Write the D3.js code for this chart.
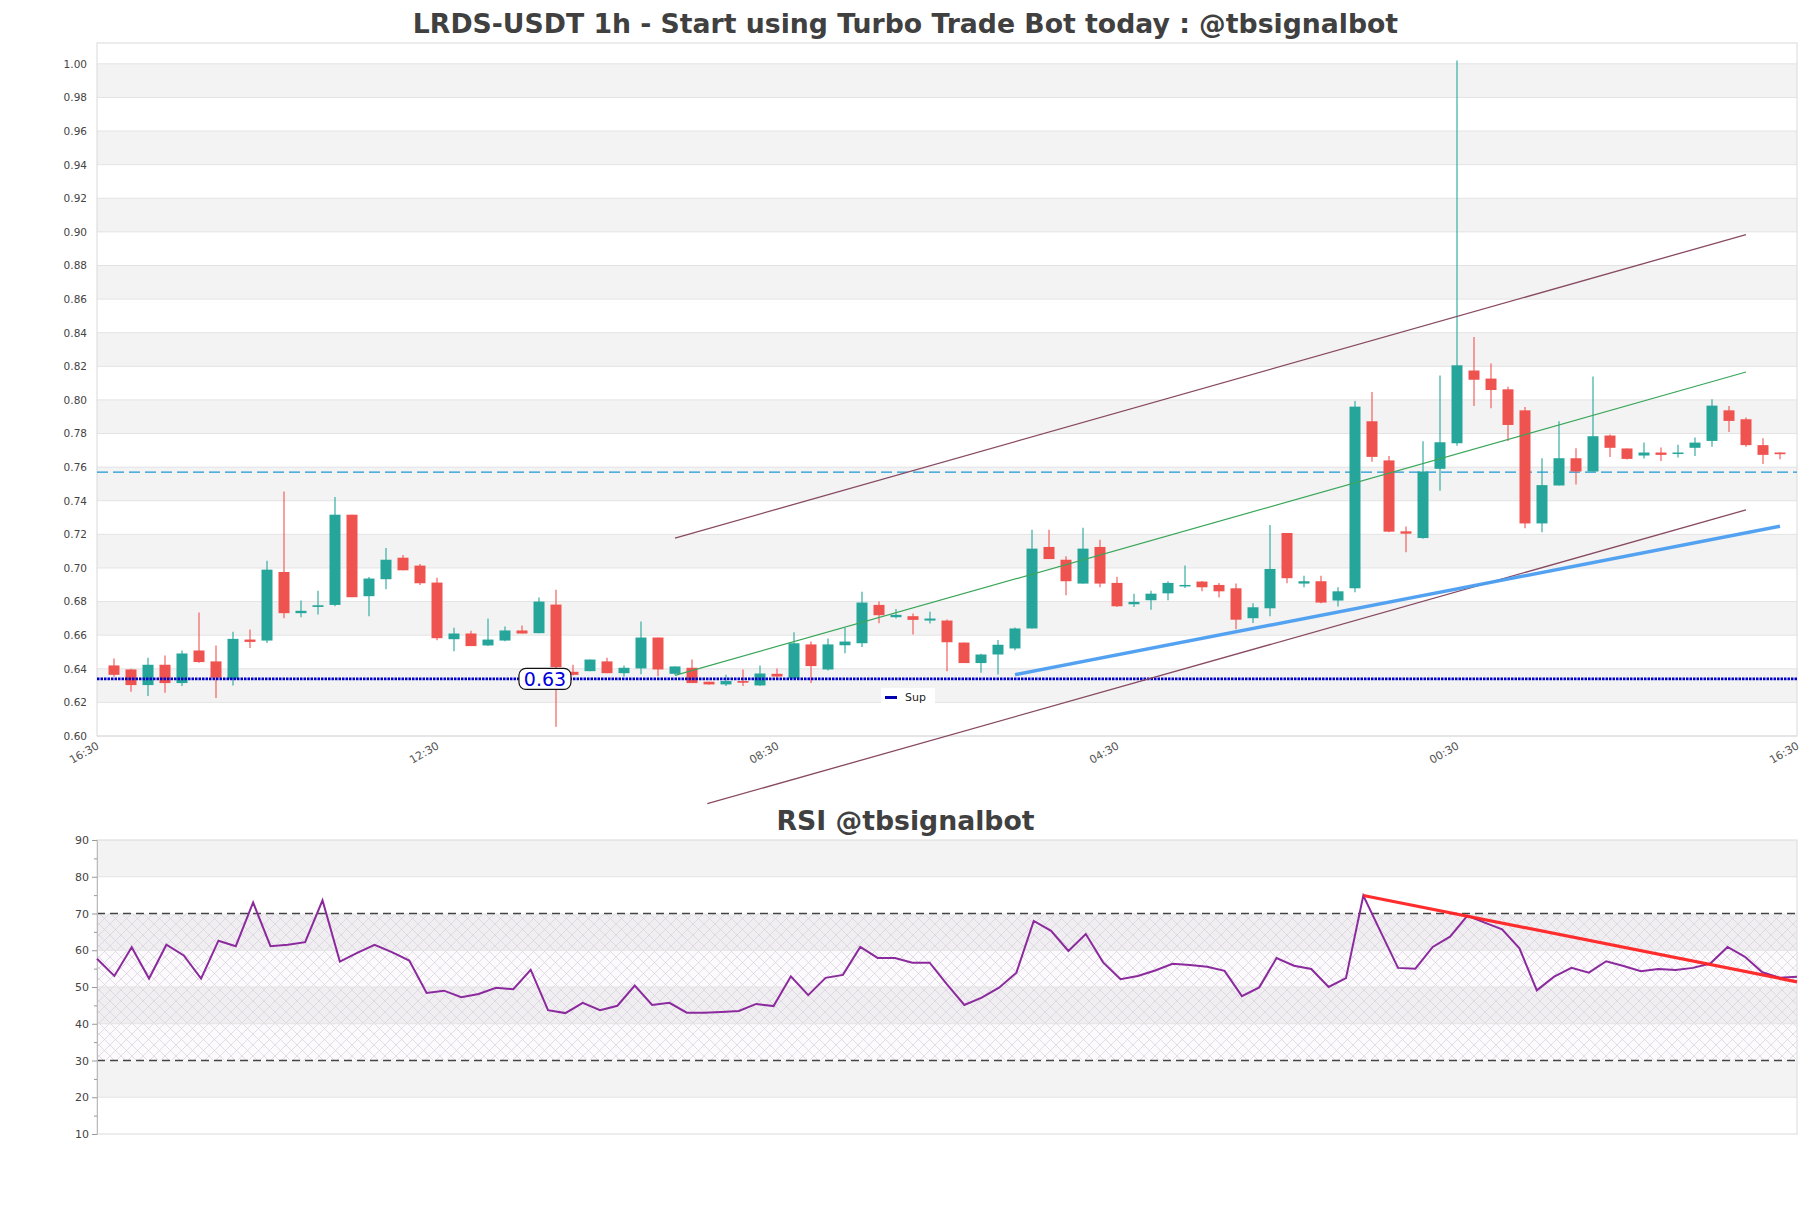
<!DOCTYPE html>
<html lang="en">
<head>
<meta charset="UTF-8">
<title>LRDS-USDT 1h</title>
<script src="https://cdn.jsdelivr.net/npm/d3@7"></script>
<style>
    body { margin: 0; background: #fff; }
    svg text { font-family: "DejaVu Sans", sans-serif; }
</style>
</head>
<body>
<svg id="canvas" width="1811" height="1208"></svg>
<script>
// ---- data (one candle per hour, 99 candles) ----
const opens  = [0.6420,0.6396,0.6303,0.6424,0.6315,0.6509,0.6444,0.6337,0.6574,0.6568,
                0.6976,0.6731,0.6768,0.6780,0.7317,0.6832,0.6933,0.7061,0.7014,0.6913,
                0.6576,0.6610,0.6539,0.6568,0.6628,0.6612,0.6782,0.6382,0.6386,0.6444,
                0.6374,0.6402,0.6586,0.6370,0.6406,0.6323,0.6307,0.6327,0.6301,0.6370,
                0.6343,0.6545,0.6396,0.6540,0.6552,0.6780,0.6707,0.6713,0.6687,0.6687,
                0.6556,0.6434,0.6485,0.6521,0.6640,0.7125,0.7049,0.6907,0.7125,0.6911,
                0.6784,0.6808,0.6849,0.6891,0.6919,0.6899,0.6879,0.6701,0.6760,0.7208,
                0.6907,0.6921,0.6806,0.6879,0.7873,0.7640,0.7218,0.7178,0.7590,0.7742,
                0.8175,0.8127,0.8063,0.7938,0.7265,0.7491,0.7653,0.7574,0.7788,0.7711,
                0.7669,0.7687,0.7679,0.7715,0.7756,0.7938,0.7885,0.7731,0.7687];
const highs  = [0.6461,0.6400,0.6465,0.6479,0.6509,0.6735,0.6539,0.6620,0.6634,0.7043,
                0.7455,0.6806,0.6865,0.7422,0.7317,0.6946,0.7119,0.7077,0.7024,0.6942,
                0.6644,0.6626,0.6699,0.6651,0.6657,0.6824,0.6871,0.6424,0.6455,0.6465,
                0.6420,0.6681,0.6586,0.6414,0.6455,0.6323,0.6364,0.6396,0.6420,0.6402,
                0.6618,0.6562,0.6580,0.6642,0.6859,0.6800,0.6756,0.6729,0.6740,0.6693,
                0.6556,0.6489,0.6572,0.6645,0.7228,0.7228,0.7069,0.7240,0.7168,0.6948,
                0.6847,0.6865,0.6921,0.7014,0.6923,0.6911,0.6908,0.6790,0.7255,0.7208,
                0.6954,0.6954,0.6885,0.7994,0.8047,0.7667,0.7247,0.7754,0.8146,1.0020,
                0.8374,0.8216,0.8079,0.7958,0.7653,0.7873,0.7713,0.8140,0.7794,0.7711,
                0.7746,0.7717,0.7733,0.7776,0.8004,0.7964,0.7895,0.7772,0.7687];
const lows   = [0.6352,0.6263,0.6238,0.6257,0.6297,0.6436,0.6226,0.6301,0.6523,0.6554,
                0.6701,0.6707,0.6723,0.6772,0.6826,0.6713,0.6873,0.6986,0.6899,0.6570,
                0.6505,0.6535,0.6535,0.6564,0.6610,0.6612,0.6055,0.6360,0.6386,0.6374,
                0.6354,0.6368,0.6356,0.6364,0.6315,0.6307,0.6297,0.6297,0.6297,0.6333,
                0.6343,0.6315,0.6390,0.6493,0.6529,0.6671,0.6699,0.6604,0.6669,0.6386,
                0.6434,0.6376,0.6366,0.6511,0.6640,0.7053,0.6838,0.6907,0.6885,0.6768,
                0.6768,0.6752,0.6808,0.6881,0.6861,0.6824,0.6636,0.6673,0.6713,0.6909,
                0.6885,0.6790,0.6770,0.6855,0.7632,0.7212,0.7093,0.7174,0.7459,0.7727,
                0.7964,0.7950,0.7756,0.7236,0.7212,0.7491,0.7497,0.7574,0.7661,0.7645,
                0.7651,0.7637,0.7657,0.7667,0.7721,0.7809,0.7721,0.7618,0.7647];
const closes = [0.6364,0.6303,0.6424,0.6315,0.6491,0.6440,0.6347,0.6578,0.6560,0.6990,
                0.6731,0.6745,0.6778,0.7317,0.6826,0.6937,0.7049,0.6986,0.6909,0.6582,
                0.6610,0.6535,0.6574,0.6628,0.6610,0.6800,0.6410,0.6364,0.6455,0.6374,
                0.6406,0.6586,0.6396,0.6414,0.6315,0.6307,0.6327,0.6317,0.6372,0.6354,
                0.6552,0.6416,0.6545,0.6562,0.6794,0.6719,0.6721,0.6691,0.6699,0.6558,
                0.6434,0.6485,0.6543,0.6640,0.7115,0.7053,0.6921,0.7115,0.6907,0.6772,
                0.6798,0.6847,0.6911,0.6899,0.6885,0.6861,0.6692,0.6766,0.6994,0.6939,
                0.6921,0.6794,0.6861,0.7960,0.7661,0.7216,0.7204,0.7574,0.7748,0.8206,
                0.8120,0.8059,0.7851,0.7265,0.7493,0.7653,0.7574,0.7784,0.7715,0.7649,
                0.7687,0.7673,0.7687,0.7746,0.7966,0.7875,0.7731,0.7673,0.7677];

const rsi = [57.7,53.0,60.8,52.3,61.5,58.6,52.3,62.6,61.1,73.0,
             61.1,61.5,62.2,73.6,56.9,59.3,61.5,59.5,57.2,48.4,
             49.0,47.2,48.1,49.8,49.4,54.7,43.7,42.9,45.7,43.7,
             44.9,50.4,45.1,45.7,43.0,43.0,43.2,43.5,45.4,44.8,
             52.9,47.8,52.5,53.3,60.9,57.9,57.9,56.6,56.6,50.7,
             45.1,47.1,49.8,53.9,68.0,65.3,59.8,64.4,56.7,52.1,
             53.0,54.5,56.3,56.0,55.5,54.4,47.5,49.9,57.9,55.8,
             54.9,50.0,52.4,74.9,65.0,55.2,55.0,60.9,63.7,69.4,
             67.5,65.7,60.5,49.1,52.8,55.2,53.9,57.0,55.7,54.3,
             54.9,54.6,55.2,56.4,60.9,58.2,54.0,52.5,52.8];

// x axis: hours since the first label
const xTickHours  = [0, 20, 40, 60, 80, 100];
const xTickLabels = ["16:30", "12:30", "08:30", "04:30", "00:30", "16:30"];
const yTicks   = d3.range(0.60, 1.001, 0.02);
const rsiTicks = [10, 20, 30, 40, 50, 60, 70, 80, 90];

// drawn levels and trend lines [hour, price]
const supLevel = 0.6340;
const resLevel = 0.7570;
const upperChannel = [[34, 0.7178], [97, 0.8984]];
const midChannel   = [[34, 0.6361], [97, 0.8166]];
const lowerChannel = [[35.9, 0.5597], [97, 0.7345]];
const supportTrend = [[54, 0.6365], [99, 0.7248]];
const rsiTrend     = [[73, 74.9], [98, 51.4]];   // [candle index, rsi]

const green = "#26a69a", red = "#ef5350";

let svg = d3.select("#canvas");

// titles
svg.append("text").attr("x", 905.5).attr("y", 23)
    .attr("text-anchor", "middle").attr("dominant-baseline", "central")
    .style("font-size", "26.7px").style("font-weight", "bold").attr("fill", "#404040")
    .text("LRDS-USDT 1h - Start using Turbo Trade Bot today : @tbsignalbot");
svg.append("text").attr("x", 905.5).attr("y", 820)
    .attr("text-anchor", "middle").attr("dominant-baseline", "central")
    .style("font-size", "26.7px").style("font-weight", "bold").attr("fill", "#404040")
    .text("RSI @tbsignalbot");

// ---------------- price panel ----------------
let x = d3.scaleLinear().domain([0, 100]).range([97, 1797]);
let y = d3.scaleLinear().domain([0.60, 1.0124]).range([736, 43]);

let priceG = svg.append("g");
// alternating bands
priceG.selectAll("rect.band")
    .data(d3.range(0.62, 0.99, 0.04))
    .enter().append("rect")
    .attr("x", 97).attr("width", 1700)
    .attr("y", d => y(d + 0.02)).attr("height", d => y(d) - y(d + 0.02))
    .attr("fill", "#f3f3f3");
priceG.selectAll("line.grid")
    .data(yTicks).enter().append("line")
    .attr("x1", 97).attr("x2", 1797)
    .attr("y1", d => y(d)).attr("y2", d => y(d))
    .attr("stroke", "#e3e3e3").attr("stroke-width", 1);
priceG.append("rect").attr("x", 97).attr("y", 43).attr("width", 1700).attr("height", 693)
    .attr("fill", "none").attr("stroke", "#dadada");

let yAxis = priceG.append("g").attr("transform", "translate(97,0)")
    .call(d3.axisLeft(y).tickValues(yTicks).tickFormat(d3.format(".2f")).tickSize(0).tickPadding(10));
yAxis.select(".domain").remove();
yAxis.selectAll("text").style("font-size", "10.5px").attr("fill", "#444")
    .style("font-family", "DejaVu Sans, sans-serif");

priceG.selectAll("text.xlab")
    .data(xTickHours).enter().append("text")
    .attr("transform", d => `translate(${x(d) + 1},${745}) rotate(-30)`)
    .attr("text-anchor", "end").attr("dominant-baseline", "central")
    .style("font-size", "11px").attr("fill", "#555")
    .text((d, i) => xTickLabels[i]);

// horizontal levels
priceG.append("line").attr("x1", 97).attr("x2", 1797)
    .attr("y1", y(resLevel)).attr("y2", y(resLevel))
    .attr("stroke", "#1e98d6").attr("stroke-width", 1.3).attr("stroke-dasharray", "11,5");

// candles
let candles = priceG.selectAll("g.candle")
    .data(opens.map((o, i) => ({o: o, h: highs[i], l: lows[i], c: closes[i], t: i + 1})))
    .enter().append("g");
candles.append("line")
    .attr("x1", d => x(d.t)).attr("x2", d => x(d.t))
    .attr("y1", d => y(d.h)).attr("y2", d => y(d.l))
    .attr("stroke", d => d.c >= d.o ? green : red).attr("stroke-width", 1.1);
candles.append("rect")
    .attr("x", d => x(d.t) - 5.5).attr("width", 11)
    .attr("y", d => y(Math.max(d.o, d.c)))
    .attr("height", d => Math.max(1.5, Math.abs(y(d.o) - y(d.c))))
    .attr("fill", d => d.c >= d.o ? green : red);

// support level (dotted)
priceG.append("line").attr("x1", 97).attr("x2", 1797)
    .attr("y1", y(supLevel)).attr("y2", y(supLevel))
    .attr("stroke", "#0000c8").attr("stroke-width", 2.6).attr("stroke-dasharray", "2.5,1");

// trend / channel lines
let pline = d3.line().x(d => x(d[0])).y(d => y(d[1]));
priceG.append("path").attr("d", pline(upperChannel)).attr("fill", "none")
    .attr("stroke", "#874a62").attr("stroke-width", 1.3);
priceG.append("path").attr("d", pline(lowerChannel)).attr("fill", "none")
    .attr("stroke", "#874a62").attr("stroke-width", 1.3);
priceG.append("path").attr("d", pline(midChannel)).attr("fill", "none")
    .attr("stroke", "#3aa65a").attr("stroke-width", 1.2);
priceG.append("path").attr("d", pline(supportTrend)).attr("fill", "none")
    .attr("stroke", "#4a9df0").attr("stroke-width", 3.5).attr("opacity", 0.95);

// level label
let lab = priceG.append("g").attr("transform", `translate(${x(26.35)},${y(supLevel)})`);
lab.append("rect").attr("x", -26).attr("y", -10.5).attr("width", 52).attr("height", 21)
    .attr("rx", 7).attr("fill", "#fff").attr("stroke", "#111").attr("stroke-width", 1.2);
lab.append("text").attr("text-anchor", "middle").attr("dominant-baseline", "central")
    .style("font-size", "19px").attr("fill", "#0000dd").text("0.63");

// legend
let leg = priceG.append("g").attr("transform", "translate(881,688)");
leg.append("rect").attr("width", 54).attr("height", 18).attr("fill", "#fff");
leg.append("line").attr("x1", 4).attr("x2", 16).attr("y1", 9.5).attr("y2", 9.5)
    .attr("stroke", "#0000b0").attr("stroke-width", 3);
leg.append("text").attr("x", 24).attr("y", 9.5).attr("dominant-baseline", "central")
    .style("font-size", "11px").attr("fill", "#222").text("Sup");

// ---------------- RSI panel ----------------
let xr = d3.scaleLinear().domain([0, rsi.length - 1]).range([97, 1797]);
let yr = d3.scaleLinear().domain([10, 90]).range([1134, 840]);

// cross hatch for the 30-70 zone
let defs = svg.append("defs");
let pat = defs.append("pattern").attr("id", "hatch").attr("patternUnits", "userSpaceOnUse")
    .attr("width", 11).attr("height", 11);
pat.append("rect").attr("width", 11).attr("height", 11).attr("fill", "rgba(170,130,200,0.04)");
pat.append("path").attr("d", "M0,0L11,11M11,0L0,11")
    .attr("stroke", "#d6cedc").attr("stroke-width", 0.7);

let rsiG = svg.append("g");
rsiG.selectAll("rect.band")
    .data([20, 40, 60, 80]).enter().append("rect")
    .attr("x", 97).attr("width", 1700)
    .attr("y", d => yr(d + 10)).attr("height", d => yr(d) - yr(d + 10))
    .attr("fill", "#f3f3f3");
rsiG.append("rect").attr("x", 97).attr("width", 1700)
    .attr("y", yr(70)).attr("height", yr(30) - yr(70)).attr("fill", "url(#hatch)");
rsiG.selectAll("line.grid")
    .data([20, 40, 50, 60, 80]).enter().append("line")
    .attr("x1", 97).attr("x2", 1797)
    .attr("y1", d => yr(d)).attr("y2", d => yr(d))
    .attr("stroke", "#e3e3e3");
rsiG.append("rect").attr("x", 97).attr("y", 840).attr("width", 1700).attr("height", 294)
    .attr("fill", "none").attr("stroke", "#dadada");
rsiG.selectAll("line.lvl")
    .data([30, 70]).enter().append("line")
    .attr("x1", 97).attr("x2", 1797)
    .attr("y1", d => yr(d)).attr("y2", d => yr(d))
    .attr("stroke", "#444").attr("stroke-width", 1.3).attr("stroke-dasharray", "8,5");

let rAxis = rsiG.append("g").attr("transform", "translate(97,0)")
    .call(d3.axisLeft(yr).tickValues(rsiTicks).tickSize(5).tickPadding(3));
rAxis.select(".domain").attr("stroke", "#bbb");
rAxis.selectAll(".tick line").attr("stroke", "#999");
rAxis.selectAll("text").style("font-size", "11px").attr("fill", "#444")
    .style("font-family", "DejaVu Sans, sans-serif");
let rMinor = rsiG.append("g").attr("transform", "translate(97,0)")
    .call(d3.axisLeft(yr).tickValues(d3.range(15, 90, 10)).tickSize(3).tickFormat(""));
rMinor.select(".domain").remove();
rMinor.selectAll(".tick line").attr("stroke", "#999");

rsiG.append("path")
    .attr("d", d3.line().x((d, i) => xr(i)).y(d => yr(d))(rsi))
    .attr("fill", "none").attr("stroke", "#8b2a9c").attr("stroke-width", 2);
rsiG.append("path")
    .attr("d", d3.line().x(d => xr(d[0])).y(d => yr(d[1]))(rsiTrend))
    .attr("fill", "none").attr("stroke", "#ff2222").attr("stroke-width", 3.2).attr("opacity", 0.95);
</script>
</body>
</html>
